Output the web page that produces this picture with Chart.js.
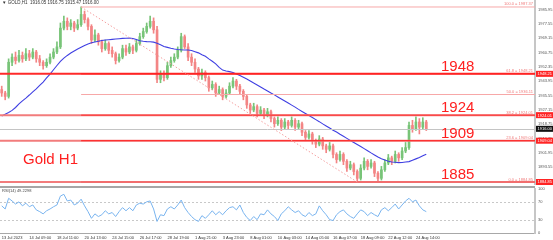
<!DOCTYPE html>
<html>
<head>
<meta charset="utf-8">
<script src="https://cdn.jsdelivr.net/npm/chart.js@4.4.0/dist/chart.umd.min.js"></script>
<style>
  html, body { margin: 0; padding: 0; background: #fff; }
  #wrap { position: relative; width: 553px; height: 240px; overflow: hidden; background: #fff; }
  #main { position: absolute; left: 0; top: 0; }
  #rsi { position: absolute; left: 0; top: 186px; }
</style>
</head>
<body>
<div id="wrap">
  <canvas id="main" width="553" height="186"></canvas>
  <canvas id="rsi" width="553" height="54"></canvas>
</div>
<script>
// GOLD H1 candles (one bar ~ 4 hours)
var opens = [1939,1937,1935,1955,1958,1956,1959,1957,1960,1958, 1961,1957,1955,1953,1955,1958,1961,1964,1975,1979,
  1976,1978,1975,1977,1983,1980,1976,1968,1971,1967, 1963,1966,1962,1960,1956,1958,1963,1961,1964,1962,
  1966,1970,1973,1976,1979,1974,1945,1948,1946,1953, 1956,1958,1962,1970,1964,1958,1955,1951,1947,1949,
  1946,1940,1942,1937,1939,1935,1937,1941,1944,1941, 1938,1935,1930,1927,1929,1925,1927,1924,1926,1922,
  1919,1921,1917,1920,1918,1921,1917,1919,1914,1911, 1913,1909,1907,1910,1906,1904,1906,1901,1898,1901,
  1897,1893,1895,1891,1887,1893,1897,1894,1896,1890, 1887,1892,1896,1899,1897,1901,1899,1903,1905,1918,
  1916,1920,1917,1920];
var closes = [1937,1935,1955,1958,1956,1959,1957,1960,1958,1961, 1957,1955,1953,1955,1958,1961,1964,1975,1979,1976,
  1978,1975,1977,1983,1980,1976,1968,1971,1967,1963, 1966,1962,1960,1956,1958,1963,1961,1964,1962,1966,
  1970,1973,1976,1979,1974,1945,1948,1946,1953,1956, 1958,1962,1970,1964,1958,1955,1951,1947,1949,1946,
  1940,1942,1937,1939,1935,1937,1941,1944,1941,1938, 1935,1930,1927,1929,1925,1927,1924,1926,1922,1919,
  1921,1917,1920,1918,1921,1917,1919,1914,1911,1913, 1909,1907,1910,1906,1904,1906,1901,1898,1901,1897,
  1893,1895,1891,1887,1893,1897,1894,1896,1890,1887, 1892,1896,1899,1897,1901,1899,1903,1905,1918,1916,
  1920,1917,1920,1916];
var highs = [1941,1938,1957,1960,1961,1962,1961,1963,1962,1963, 1962,1959,1956,1957,1960,1963,1967,1978,1982,1981,
  1980,1979,1980,1987.4,1985,1981,1977,1974,1972,1968, 1968,1967,1964,1961,1960,1965,1965,1966,1965,1968,
  1972,1975,1978,1982,1981,1976,1950,1950,1955,1958, 1960,1964,1972,1971,1966,1960,1957,1952,1951,1950,
  1947,1944,1943,1941,1940,1939,1943,1946,1945,1942, 1939,1936,1931,1931,1930,1929,1928,1928,1927,1923,
  1923,1922,1922,1921,1923,1922,1921,1920,1915,1915, 1914,1910,1912,1911,1907,1908,1907,1902,1903,1902,
  1898,1897,1896,1892,1895,1899,1898,1898,1897,1891, 1894,1898,1901,1900,1903,1902,1905,1908,1920,1921,
  1923,1922,1922.5,1921];
var lows = [1935,1933,1934,1953,1954,1955,1955,1956,1956,1957, 1955,1953,1951,1952,1954,1957,1960,1963,1974,1974,
  1974,1973,1974,1976,1978,1974,1966,1967,1965,1961, 1962,1960,1958,1954,1955,1957,1959,1960,1960,1961,
  1965,1969,1972,1975,1972,1943,1943,1944,1945,1952, 1955,1957,1961,1963,1956,1953,1949,1945,1945,1944,
  1938,1939,1935,1936,1933,1934,1936,1940,1939,1936, 1933,1928,1925,1926,1923,1924,1922,1923,1920,1917,
  1918,1915,1916,1916,1917,1915,1916,1912,1909,1910, 1907,1905,1906,1904,1902,1903,1899,1896,1897,1895,
  1891,1892,1889,1884.9,1886,1892,1892,1893,1888,1885.6, 1886,1891,1895,1895,1896,1897,1898,1902,1904,1914,
  1915,1913,1916,1915];
// moving average (blue line)
var ma = [1923.5,1924.6,1925.6,1926.8,1928.5,1930.6,1932.4,1934.0,1935.8,1937.7, 1939.4,1941.5,1943.4,1945.8,1948.1,1950.6,1953.1,1955.5,1957.4,1959.0,
  1960.4,1961.6,1962.8,1963.8,1964.8,1965.7,1966.4,1966.9,1967.3,1967.7, 1968.0,1968.2,1968.4,1968.6,1968.8,1969.0,1969.1,1969.2,1968.9,1968.3,
  1967.6,1967.3,1967.1,1967.0,1966.8,1966.1,1965.2,1964.2,1963.7,1963.2, 1962.8,1962.5,1962.3,1962.2,1962.2,1961.9,1961.2,1960.5,1959.4,1958.5,
  1957.0,1955.6,1954.1,1952.0,1950.4,1949.9,1949.5,1949.0,1948.1,1947.2, 1946.2,1945.2,1944.0,1942.8,1941.7,1940.5,1939.3,1938.2,1937.0,1935.9,
  1934.7,1933.5,1932.3,1931.1,1929.9,1928.7,1927.4,1926.2,1925.0,1923.8, 1922.6,1921.4,1920.2,1918.9,1917.7,1916.5,1915.2,1914.1,1912.8,1911.6,
  1910.4,1909.2,1908.0,1906.8,1905.6,1904.4,1903.2,1901.9,1900.7,1899.5, 1898.5,1897.7,1897.0,1896.6,1896.4,1896.2,1896.3,1896.6,1896.8,1897.6,
  1898.4,1899.2,1900.2,1901.1];
// RSI(14)
var rsi = [61,54,78,72,65,70,61,67,59,63, 52,48,43,50,54,59,63,83,87,72,
  74,63,67,76,61,48,33,43,37,41, 50,43,46,37,48,57,50,57,50,63,
  67,65,70,72,54,26,41,39,54,59, 54,63,74,57,46,37,30,26,39,33,
  41,50,41,48,41,50,57,59,52,63, 46,35,28,37,30,43,41,52,43,37,
  28,43,50,59,52,46,50,41,37,46, 39,43,61,50,41,30,28,41,48,52,
  43,37,33,43,52,48,39,46,41,37, 52,57,50,57,65,54,63,72,78,70,
  74,61,52,48];

var xTickLabels = ['13 Jul 2023','14 Jul 09:00','18 Jul 11:00','20 Jul 13:00','24 Jul 15:00','26 Jul 17:00',
  '28 Jul 19:00','1 Aug 21:00','3 Aug 23:00','8 Aug 01:00','10 Aug 03:00','14 Aug 05:00','16 Aug 07:00',
  '18 Aug 09:00','22 Aug 12:00','24 Aug 14:00'];
var yTicks = [1985.95,1977.55,1969.15,1960.75,1952.35,1943.95,1935.55,1927.15,1918.75,1910.35,1901.95,1893.55];
var rsiTicks = [0,30,70,100];
var rsiLevels = [30,70];

// fibonacci from the high to the low
var fibNames = ['0.0','23.6','38.2','50.0','61.8','100.0'];
var fibPrices = [1884.85,1909.04,1924.01,1936.11,1948.21,1987.37];
var fibHighIdx = 23, fibLowIdx = 103;
// support / resistance levels
var levelTexts = ['1948','1924','1909','1885'];
var levelPrices = [1948.21,1924.01,1909.04,1884.85];
var lastPrice = 1916.00;

var SLOTS = 155, TICK_EVERY = 8;
var GREEN = '#78c478', RED = '#f38585';
var FONT = 'Liberation Sans, Arial, sans-serif';

var slotLabels = [];
for (var i = 0; i < SLOTS; i++) {
  var k = i / TICK_EVERY;
  slotLabels.push(i % TICK_EVERY === 0 && xTickLabels[k] ? xTickLabels[k] : '');
}
var bodies = opens.map(function (o, i) { return [o, closes[i]]; });
var wicks = lows.map(function (l, i) { return [l, highs[i]]; });
var candleColors = closes.map(function (c, i) { return c >= opens[i] ? GREEN : RED; });

function hline(ctx, x1, x2, y, color, w) {
  ctx.beginPath();
  ctx.strokeStyle = color;
  ctx.lineWidth = w;
  ctx.moveTo(x1, y);
  ctx.lineTo(x2, y);
  ctx.stroke();
}

var overlay = {
  id: 'overlay',
  afterDatasetsDraw: function (chart) {
    var ctx = chart.ctx, a = chart.chartArea, x = chart.scales.x, y = chart.scales.y;
    ctx.save();
    // current price line
    hline(ctx, a.left, a.right, Math.round(y.getPixelForValue(lastPrice)) + 0.5, '#c4c4c4', 1);
    // level lines across the whole chart
    var lvlColors = ['#ff2a2a', '#f27c7c', '#f27c7c', '#f27c7c'];
    levelPrices.forEach(function (p, k) {
      hline(ctx, a.left, a.right, y.getPixelForValue(p), lvlColors[k], 2);
    });
    // fib lines from the high to the right edge
    var xf = x.getPixelForValue(fibHighIdx);
    var fibColors = ['#f06060', '#ff2020', '#ff3030', '#f7a8a8', '#ff2020', '#f7a8a8'];
    ctx.font = '4px ' + FONT;
    ctx.textAlign = 'right';
    ctx.textBaseline = 'alphabetic';
    fibPrices.forEach(function (p, k) {
      var yp = y.getPixelForValue(p);
      hline(ctx, xf, a.right, yp, fibColors[k], 1);
      ctx.fillStyle = '#f07a7a';
      ctx.fillText(fibNames[k] + ' = ' + p.toFixed(2), a.right - 2, yp - 1.5);
    });
    // fib trend line (dotted)
    ctx.beginPath();
    ctx.setLineDash([1.5, 2]);
    ctx.strokeStyle = '#f4a0a0';
    ctx.lineWidth = 1;
    ctx.moveTo(xf, y.getPixelForValue(fibPrices[5]));
    ctx.lineTo(x.getPixelForValue(fibLowIdx), y.getPixelForValue(fibPrices[0]));
    ctx.stroke();
    ctx.setLineDash([]);
    // big level captions
    ctx.font = '15px ' + FONT;
    ctx.textAlign = 'left';
    ctx.fillStyle = '#ff2020';
    levelPrices.forEach(function (p, k) {
      ctx.fillText(levelTexts[k], 441, y.getPixelForValue(p) - 3);
    });
    ctx.fillText('Gold H1', 23, 164);
    // header
    ctx.font = '4.5px ' + FONT;
    ctx.fillStyle = '#333';
    ctx.textBaseline = 'middle';
    ctx.fillText('\u25BC GOLD,H1  1916.05 1916.75 1915.47 1916.00', 2, 2.5);
    ctx.restore();
  },
  afterDraw: function (chart) {
    var ctx = chart.ctx, a = chart.chartArea, y = chart.scales.y;
    ctx.save();
    ctx.font = '4px ' + FONT;
    ctx.textAlign = 'left';
    ctx.textBaseline = 'middle';
    function box(p, bg) {
      var yp = y.getPixelForValue(p);
      ctx.fillStyle = bg;
      ctx.fillRect(a.right + 1, yp - 3, 17, 6);
      ctx.fillStyle = '#fff';
      ctx.fillText(p.toFixed(2), a.right + 2.5, yp + 0.3);
    }
    levelPrices.forEach(function (p) { box(p, '#ff2424'); });
    box(lastPrice, '#111');
    ctx.restore();
  }
};

new Chart(document.getElementById('main'), {
  type: 'bar',
  data: {
    labels: slotLabels,
    datasets: [
      { type: 'line', data: ma, borderColor: '#3f3fe2', borderWidth: 1.1, pointRadius: 0, order: 0 },
      { data: bodies, backgroundColor: candleColors, barThickness: 2, grouped: false, order: 1 },
      { data: wicks, backgroundColor: candleColors, barThickness: 1, grouped: false, order: 2 }
    ]
  },
  options: {
    responsive: false,
    animation: false,
    devicePixelRatio: 1,
    layout: { padding: { top: 0, bottom: 2, left: 0, right: 0 } },
    plugins: { legend: { display: false }, tooltip: { enabled: false } },
    scales: {
      x: { display: false, offset: true, grid: { display: false } },
      y: {
        position: 'right', min: 1883.68, max: 1991.47,
        grid: { display: false, drawTicks: false },
        border: { display: true, color: '#c6c6c6', width: 2 },
        afterBuildTicks: function (s) { s.ticks = yTicks.map(function (v) { return { value: v }; }); },
        afterFit: function (s) { s.width = 18; s.paddingTop = 0; s.paddingBottom = 0; },
        ticks: { font: { size: 4, family: FONT }, color: '#555', padding: 3,
          callback: function (v) { return v.toFixed(2); } }
      }
    }
  },
  plugins: [overlay]
});

var rsiOverlay = {
  id: 'rsiOverlay',
  beforeDatasetsDraw: function (chart) {
    var ctx = chart.ctx, a = chart.chartArea, y = chart.scales.y;
    ctx.save();
    ctx.setLineDash([2, 2]);
    rsiLevels.forEach(function (v) {
      hline(ctx, a.left, a.right, Math.round(y.getPixelForValue(v)) + 0.5, '#c8c8c8', 1);
    });
    ctx.restore();
  },
  afterDraw: function (chart) {
    var ctx = chart.ctx, a = chart.chartArea;
    ctx.save();
    ctx.fillStyle = '#a6a6a6';
    ctx.fillRect(0, 0, a.right, 2);
    ctx.font = '4px ' + FONT;
    ctx.fillStyle = '#444';
    ctx.textBaseline = 'middle';
    ctx.fillText('RSI(14) 49.2298', 2, 5);
    ctx.restore();
  }
};

new Chart(document.getElementById('rsi'), {
  type: 'line',
  data: {
    labels: slotLabels,
    datasets: [{ data: rsi, borderColor: '#79b4ef', borderWidth: 1, pointRadius: 0 }]
  },
  options: {
    responsive: false,
    animation: false,
    devicePixelRatio: 1,
    layout: { padding: { top: 2.5, bottom: 0, left: 0, right: 0 } },
    plugins: { legend: { display: false }, tooltip: { enabled: false } },
    scales: {
      x: {
        offset: true,
        grid: { display: false, drawTicks: false },
        border: { display: true, color: '#a8a8a8', width: 1 },
        afterFit: function (s) { s.height = 7; s.paddingLeft = 0; s.paddingRight = 0; },
        ticks: { autoSkip: false, maxRotation: 0, minRotation: 0, align: 'start', padding: 2,
          font: { size: 4, family: FONT }, color: '#333' }
      },
      y: {
        position: 'right', min: 0, max: 100,
        grid: { display: false, drawTicks: false },
        border: { display: true, color: '#c6c6c6', width: 2 },
        afterBuildTicks: function (s) { s.ticks = rsiTicks.map(function (v) { return { value: v }; }); },
        afterFit: function (s) { s.width = 18; s.paddingTop = 0; s.paddingBottom = 0; },
        ticks: { font: { size: 4, family: FONT }, color: '#555', padding: 3 }
      }
    }
  },
  plugins: [rsiOverlay]
});
</script>
</body>
</html>
